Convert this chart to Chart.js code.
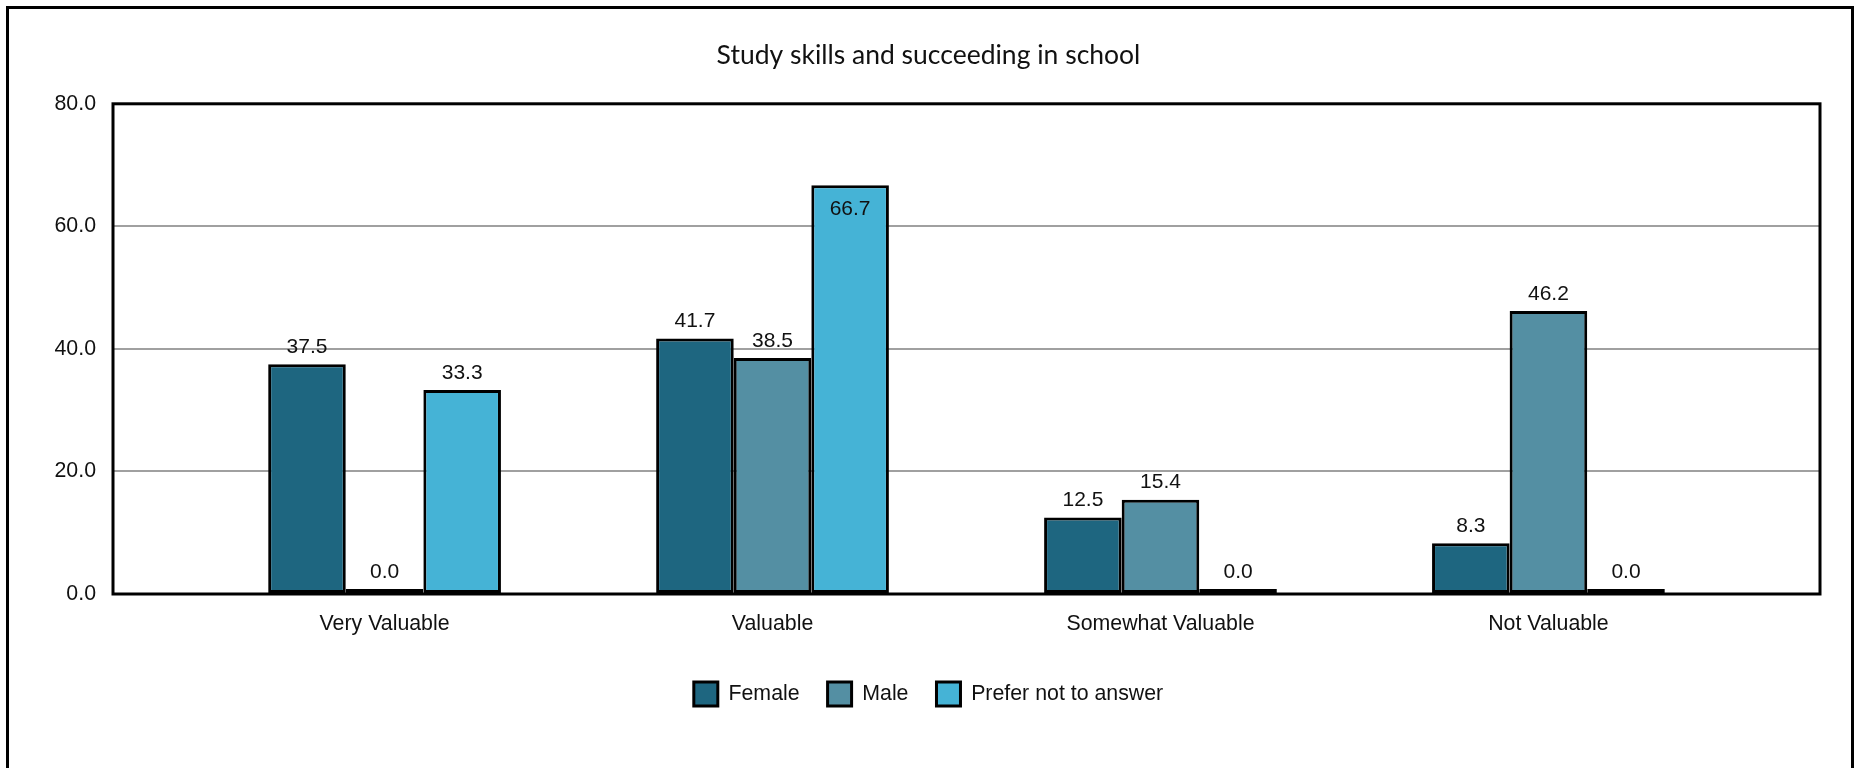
<!DOCTYPE html>
<html>
<head>
<meta charset="utf-8">
<script src="https://cdn.jsdelivr.net/npm/chart.js@4"></script>
<style>
  html, body { margin: 0; padding: 0; background: #fff; overflow: hidden; }
  #wrap { position: relative; width: 1857px; height: 768px; }
  #frame { position: absolute; left: 6px; top: 6px; width: 1842px; height: 800px; border: 3px solid #000; pointer-events: none; }
  canvas { position: absolute; left: 0; top: 0; }
</style>
</head>
<body>
<div id="wrap">
  <canvas id="c" width="1857" height="768"></canvas>
  <div id="frame"></div>
</div>
<script>
const chartTitle = "Study skills and succeeding in school";
const categories = ["Very Valuable", "Valuable", "Somewhat Valuable", "Not Valuable"];
const female = [37.5, 41.7, 12.5, 8.3];
const male = [0.0, 38.5, 15.4, 46.2];
const preferNot = [33.3, 66.7, 0.0, 0.0];
const seriesNames = ["Female", "Male", "Prefer not to answer"];
const seriesColors = ["#1e6680", "#548fa3", "#45b3d6"];
const yTicks = [0, 20, 40, 60, 80];

const FONT = "'Liberation Sans', Arial, sans-serif";
const seriesValues = [female, male, preferNot];

const plotFrame = {
  id: 'plotFrame',
  beforeDatasetsDraw(chart) {
    const a = chart.chartArea, ctx = chart.ctx;
    ctx.save();
    ctx.strokeStyle = '#000';
    ctx.lineWidth = 3;
    ctx.strokeRect(a.left, a.top, a.right - a.left, a.bottom - a.top);
    ctx.restore();
  }
};

const valueLabels = {
  id: 'valueLabels',
  afterDatasetsDraw(chart) {
    const ctx = chart.ctx;
    const yMax = chart.scales.y.max;
    ctx.save();
    ctx.font = "21px " + FONT;
    ctx.fillStyle = '#111';
    ctx.textAlign = 'center';
    ctx.textBaseline = 'middle';
    chart.data.datasets.forEach((ds, di) => {
      const meta = chart.getDatasetMeta(di);
      meta.data.forEach((el, i) => {
        const v = seriesValues[di][i];
        const txt = v.toFixed(1);
        if (v / yMax > 0.8) {
          ctx.fillText(txt, el.x, el.y + 24);
        } else {
          ctx.fillText(txt, el.x, el.y - 17);
        }
      });
    });
    ctx.restore();
  }
};

new Chart(document.getElementById('c'), {
  type: 'bar',
  data: {
    datasets: seriesValues.map((vals, di) => ({
      label: seriesNames[di],
      data: vals.map((v, i) => ({ x: i, y: v })),
      backgroundColor: seriesColors[di],
      borderColor: '#000',
      borderWidth: 3,
      borderSkipped: false,
      minBarLength: 5,
      categoryPercentage: 0.6,
      barPercentage: 1.0
    }))
  },
  options: {
    responsive: false,
    animation: false,
    layout: { padding: { left: 37, right: 37, top: 0, bottom: 52 } },
    plugins: {
      title: {
        display: true,
        text: chartTitle,
        color: '#111',
        font: { family: "Lato, 'Open Sans', sans-serif", size: 26.5, weight: 'normal' },
        padding: { top: 40, bottom: 32 }
      },
      legend: {
        position: 'bottom',
        labels: {
          color: '#111',
          font: { family: FONT, size: 21.33 },
          boxWidth: 24,
          boxHeight: 24,
          padding: 28
        }
      },
      tooltip: { enabled: false }
    },
    scales: {
      x: {
        type: 'linear',
        offset: false,
        min: -0.7,
        max: 3.7,
        grid: { display: false, drawTicks: false },
        border: { display: false },
        afterFit(scale) { scale.height = 60; },
        ticks: {
          stepSize: 1,
          includeBounds: false,
          autoSkip: false,
          maxRotation: 0,
          padding: 17,
          color: '#111',
          font: { family: FONT, size: 21.33 },
          callback: (v) => (Number.isInteger(v) && categories[v] !== undefined) ? categories[v] : ''
        }
      },
      y: {
        min: yTicks[0],
        max: yTicks[yTicks.length - 1],
        afterFit(scale) { scale.width = 76; },
        afterBuildTicks(scale) { scale.ticks = yTicks.map(v => ({ value: v })); },
        grid: { color: '#a0a0a0', lineWidth: 2, drawTicks: false },
        border: { display: false },
        ticks: {
          padding: 17,
          color: '#111',
          font: { family: FONT, size: 21.33 },
          callback: (v) => Number(v).toFixed(1)
        }
      }
    }
  },
  plugins: [plotFrame, valueLabels]
});
</script>
</body>
</html>
